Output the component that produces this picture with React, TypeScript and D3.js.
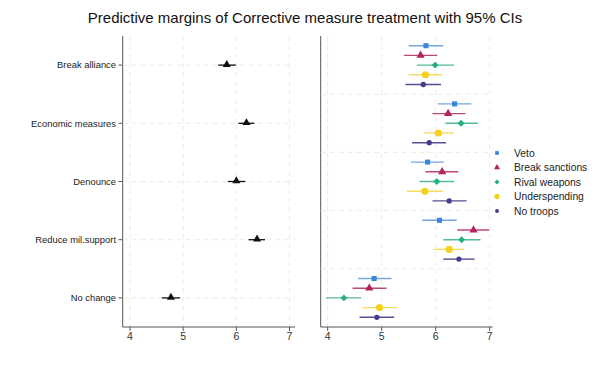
import { useEffect, useRef } from "react";
import * as d3 from "d3";

const categories = ["Break alliance", "Economic measures", "Denounce", "Reduce mil.support", "No change"];

// pooled margins (left panel): [estimate, lower, upper]
const pooled: [number, number, number][] = [
  [5.82, 5.66, 5.99],
  [6.19, 6.04, 6.34],
  [6.0, 5.84, 6.17],
  [6.39, 6.23, 6.54],
  [4.77, 4.6, 4.94],
];

const seriesNames = ["Veto", "Break sanctions", "Rival weapons", "Underspending", "No troops"];
const seriesColors = ["#3a86d8", "#b3245f", "#22b07e", "#f6d11c", "#4b3a8c"];
const lineColors = ["#74a8de", "#b94a78", "#52bc94", "#f6dc63", "#5b4d93"];

// per-treatment margins, rows = categories, columns = series: [estimate, lower, upper]
const byTreatment: [number, number, number][][] = [
  [[5.82, 5.5, 6.14], [5.72, 5.41, 6.03], [5.99, 5.65, 6.34], [5.81, 5.5, 6.12], [5.77, 5.44, 6.1]],
  [[6.35, 6.04, 6.66], [6.23, 5.94, 6.55], [6.47, 6.18, 6.78], [6.05, 5.79, 6.34], [5.88, 5.56, 6.19]],
  [[5.85, 5.54, 6.15], [6.12, 5.81, 6.42], [6.02, 5.7, 6.34], [5.8, 5.47, 6.13], [6.25, 5.94, 6.57]],
  [[6.07, 5.75, 6.39], [6.7, 6.4, 6.99], [6.48, 6.14, 6.83], [6.25, 5.96, 6.53], [6.43, 6.14, 6.72]],
  [[4.86, 4.56, 5.18], [4.77, 4.46, 5.09], [4.3, 3.97, 4.62], [4.96, 4.64, 5.29], [4.91, 4.59, 5.23]],
];

const xTicks = [4, 5, 6, 7];

const W = 610;
const H = 366;
const top = 36;
const bottom = 327;
const font = "'Liberation Sans', Arial, sans-serif";

export default function App() {
  const ref = useRef<SVGSVGElement | null>(null);

  useEffect(() => {
    if (!ref.current) return;
    const svg = d3.select(ref.current);
    svg.selectAll("*").remove();

    svg.append("rect").attr("width", W).attr("height", H).attr("fill", "#fff");

    svg
      .append("text")
      .attr("x", 305)
      .attr("y", 23)
      .attr("text-anchor", "middle")
      .style("font-family", font)
      .style("font-size", "15px")
      .attr("fill", "#111")
      .text("Predictive margins of Corrective measure treatment with 95% CIs");

    const yBand = d3.scaleBand().domain(categories).range([top, bottom]);
    const yMid = (c: string) => (yBand(c) || 0) + yBand.bandwidth() / 2;

    const panel = (x0: number, x1: number, xs: d3.ScaleLinear<number, number>) => {
      const g = svg.append("g");
      // vertical grid
      g.selectAll("line.vg")
        .data(xTicks)
        .join("line")
        .attr("x1", (d) => xs(d))
        .attr("x2", (d) => xs(d))
        .attr("y1", top)
        .attr("y2", bottom)
        .attr("stroke", "#e6e6e6")
        .attr("stroke-dasharray", "5,4")
        .attr("stroke-width", 0.8);
      // axes
      g.append("line")
        .attr("x1", x0)
        .attr("x2", x1)
        .attr("y1", bottom)
        .attr("y2", bottom)
        .attr("stroke", "#555")
        .attr("stroke-width", 1);
      g.append("line")
        .attr("x1", x0)
        .attr("x2", x0)
        .attr("y1", top)
        .attr("y2", bottom)
        .attr("stroke", "#555")
        .attr("stroke-width", 1);
      g.selectAll("line.xt")
        .data(xTicks)
        .join("line")
        .attr("x1", (d) => xs(d))
        .attr("x2", (d) => xs(d))
        .attr("y1", bottom)
        .attr("y2", bottom + 4)
        .attr("stroke", "#555");
      g.selectAll("text.xl")
        .data(xTicks)
        .join("text")
        .attr("x", (d) => xs(d))
        .attr("y", bottom + 13)
        .attr("text-anchor", "middle")
        .style("font-family", font)
        .style("font-size", "10.5px")
        .attr("fill", "#333")
        .text((d) => d);
      return g;
    };

    // Left panel
    const xl = d3.scaleLinear().domain([4, 7]).range([130, 289.5]);
    const gl = panel(122.7, 295, xl);
    gl.selectAll("line.hg")
      .data(categories)
      .join("line")
      .attr("x1", 122.7)
      .attr("x2", 295)
      .attr("y1", (d) => yMid(d))
      .attr("y2", (d) => yMid(d))
      .attr("stroke", "#e6e6e6")
      .attr("stroke-dasharray", "5,4")
      .attr("stroke-width", 0.8);
    gl.selectAll("line.yt")
      .data(categories)
      .join("line")
      .attr("x1", 118.5)
      .attr("x2", 122.7)
      .attr("y1", (d) => yMid(d))
      .attr("y2", (d) => yMid(d))
      .attr("stroke", "#555");
    gl.selectAll("text.yl")
      .data(categories)
      .join("text")
      .attr("x", 116)
      .attr("y", (d) => yMid(d))
      .attr("dy", "0.35em")
      .attr("text-anchor", "end")
      .style("font-family", font)
      .style("font-size", "9.4px")
      .attr("fill", "#222")
      .text((d) => d);
    const tri = d3.symbol().type(d3.symbolTriangle).size(28);
    categories.forEach((c, i) => {
      const [m, lo, hi] = pooled[i];
      gl.append("line")
        .attr("x1", xl(lo))
        .attr("x2", xl(hi))
        .attr("y1", yMid(c))
        .attr("y2", yMid(c))
        .attr("stroke", "#111")
        .attr("stroke-width", 1.3);
      gl.append("path")
        .attr("d", tri()!)
        .attr("transform", `translate(${xl(m)},${yMid(c) - 0.5})`)
        .attr("fill", "#111");
    });

    // Right panel
    const xr = d3.scaleLinear().domain([4, 7]).range([327.7, 489.7]);
    const gr = panel(320.7, 492.7, xr);
    gr.selectAll("line.hg")
      .data(categories.slice(1))
      .join("line")
      .attr("x1", 320.7)
      .attr("x2", 492.7)
      .attr("y1", (d) => yBand(d) || 0)
      .attr("y2", (d) => yBand(d) || 0)
      .attr("stroke", "#e6e6e6")
      .attr("stroke-dasharray", "5,4")
      .attr("stroke-width", 0.8);

    const diamond = (d3 as any).symbolDiamond2 || d3.symbolDiamond;
    const offset = d3.scalePoint<number>().domain([0, 1, 2, 3, 4]).range([-19.4, 19.4]);
    const symbols = [
      d3.symbol().type(d3.symbolSquare).size(26),
      d3.symbol().type(d3.symbolTriangle).size(30),
      d3.symbol().type(diamond).size(30),
      d3.symbol().type(d3.symbolCircle).size(40),
      d3.symbol().type(d3.symbolCircle).size(22),
    ];
    categories.forEach((c, i) => {
      byTreatment[i].forEach(([m, lo, hi], s) => {
        const y = yMid(c) + (offset(s) || 0);
        gr.append("line")
          .attr("x1", xr(lo))
          .attr("x2", xr(hi))
          .attr("y1", y)
          .attr("y2", y)
          .attr("stroke", lineColors[s])
          .attr("stroke-width", 1.4);
        gr.append("path")
          .attr("d", symbols[s]()!)
          .attr("transform", `translate(${xr(m)},${y})`)
          .attr("fill", seriesColors[s]);
      });
    });

    // Legend
    const lg = svg.append("g").attr("transform", "translate(497,153)");
    const legendSymbols = [
      d3.symbol().type(d3.symbolSquare).size(14),
      d3.symbol().type(d3.symbolTriangle).size(16),
      d3.symbol().type(diamond).size(16),
      d3.symbol().type(d3.symbolCircle).size(22),
      d3.symbol().type(d3.symbolCircle).size(12),
    ];
    seriesNames.forEach((n, s) => {
      const y = s * 14.5;
      lg.append("path")
        .attr("d", legendSymbols[s]()!)
        .attr("transform", `translate(0,${y})`)
        .attr("fill", seriesColors[s]);
      lg.append("text")
        .attr("x", 17)
        .attr("y", y)
        .attr("dy", "0.35em")
        .style("font-family", font)
        .style("font-size", "10.3px")
        .attr("fill", "#222")
        .text(n);
    });
  }, []);

  return (
    <svg
      ref={ref}
      width={W}
      height={H}
      style={{ position: "absolute", left: 0, top: 0 }}
    />
  );
}
